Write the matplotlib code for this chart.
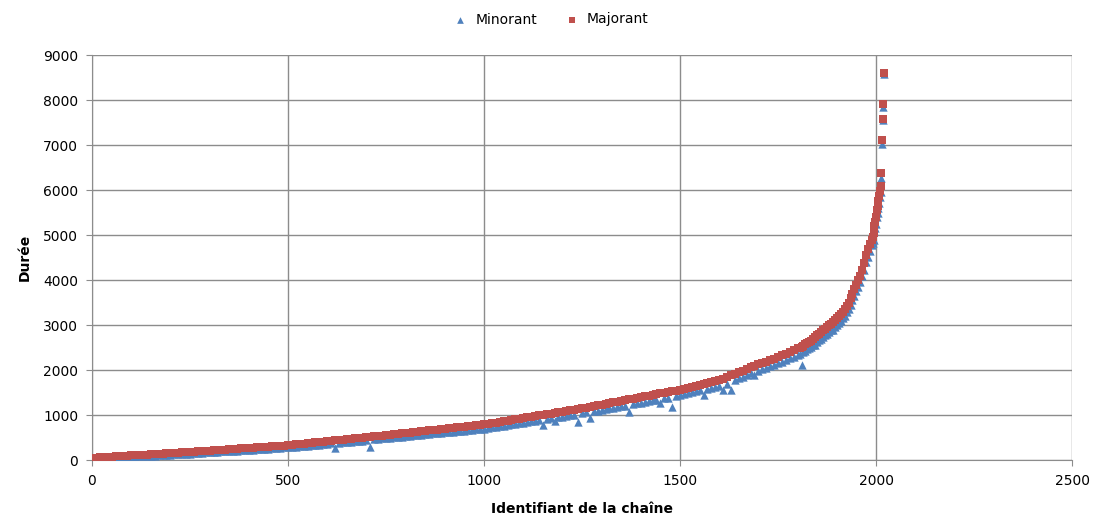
import numpy as np
import matplotlib
matplotlib.use("Agg")
import matplotlib.pyplot as plt

ids = (list(range(0, 1800, 10)) + list(range(1800, 1991, 5))
       + list(range(1992, 2013, 2)) + [2014, 2016, 2017, 2018, 2020])

majorant = [
    20, 55, 62, 68, 72, 78, 84, 88, 93, 98, 102, 107, 112, 117, 121, 126, 131, 137, 142, 147, 152, 158, 163, 168, 174, 180,
    186, 192, 197, 203, 209, 215, 221, 227, 233, 239, 245, 251, 257, 263, 269, 275, 281, 287, 293, 299, 305, 311, 317, 323, 330,
    338, 347, 356, 364, 373, 382, 391, 400, 409, 418, 427, 436, 445, 454, 463, 472, 481, 490, 499, 508, 517, 527, 536, 545, 555,
    564, 574, 583, 592, 602, 611, 621, 630, 640, 649, 658, 668, 677, 687, 696, 705, 715, 724, 734, 743, 752, 762, 771, 781, 790,
    804, 818, 832, 847, 861, 875, 890, 904, 918, 933, 947, 962, 976, 990, 1005, 1019, 1034, 1048, 1063, 1077, 1092, 1106, 1121, 1135, 1150,
    1166, 1182, 1198, 1215, 1231, 1248, 1264, 1281, 1297, 1314, 1330, 1347, 1363, 1380, 1396, 1413, 1429, 1446, 1462, 1479, 1495, 1511, 1527, 1544, 1560,
    1582, 1604, 1626, 1648, 1670, 1692, 1714, 1736, 1758, 1780,
    1812, 1845, 1880, 1915, 1950, 1985, 2025, 2060, 2095, 2130,
    2160, 2190, 2220, 2255, 2290, 2325, 2365, 2400, 2440,
    2480, 2500, 2520, 2545, 2570, 2600, 2620, 2650, 2700, 2740, 2780, 2810, 2840, 2880, 2920, 2960, 3000, 3030, 3060, 3110,
    3160, 3200, 3250, 3290, 3350, 3420, 3500, 3600, 3700, 3800, 3900, 4000, 4100, 4230, 4380, 4560, 4680, 4800, 4900,
    4950, 5050, 5200, 5300, 5400, 5550, 5650, 5750, 5870, 5980, 6090,
    6380, 7120, 7590, 7920, 8600,
]

minorant = [
    10, 30, 35, 40, 45, 50, 55, 60, 62, 68, 72, 78, 80, 86, 90, 95, 100, 105, 110, 115, 120, 125, 130, 135, 140, 145,
    150, 156, 160, 168, 172, 178, 185, 190, 196, 200, 205, 210, 218, 222, 228, 232, 240, 245, 250, 255, 262, 268, 275, 280, 285,
    292, 300, 308, 315, 322, 330, 338, 345, 352, 360, 368, 270, 385, 392, 400, 410, 418, 425, 432, 440, 290, 465, 472, 480, 490,
    498, 505, 515, 522, 530, 540, 548, 556, 565, 572, 580, 590, 598, 605, 615, 622, 630, 640, 648, 655, 665, 672, 680, 690, 700,
    710, 725, 738, 750, 765, 780, 790, 805, 818, 830, 845, 860, 870, 885, 780, 910, 925, 870, 950, 965, 980, 990, 1005, 840, 1040,
    1060, 930, 1085, 1100, 1120, 1135, 1150, 1165, 1180, 1195, 1210, 1070, 1245, 1260, 1275, 1290, 1310, 1325, 1340, 1270, 1370, 1390, 1180, 1420, 1440,
    1470, 1490, 1510, 1530, 1550, 1440, 1590, 1610, 1630, 1650,
    1560, 1700, 1560, 1780, 1820, 1850, 1890, 1930, 1890, 1990,
    2020, 2050, 2080, 2110, 2150, 2180, 2220, 2260, 2290,
    2330, 2350, 2110, 2400, 2430, 2460, 2480, 2510, 2550, 2560, 2620, 2660, 2700, 2730, 2780, 2800, 2850, 2880, 2900, 2950,
    3000, 3050, 3100, 3150, 3200, 3280, 3350, 3450, 3550, 3650, 3750, 3850, 3950, 4080, 4220, 4400, 4520, 4650, 4780,
    4820, 4900, 5100, 5150, 5250, 5400, 5500, 5600, 5720, 5850, 5950,
    6270, 7030, 7560, 7850, 8580,
]

x_ticks = [0, 500, 1000, 1500, 2000, 2500]
y_ticks = [0, 1000, 2000, 3000, 4000, 5000, 6000, 7000, 8000, 9000]

## PLOT
fig = plt.figure(figsize=(10.95, 5.30), dpi=100)
ax = fig.add_axes([0.084, 0.132, 0.895, 0.764])

ax.scatter(ids, minorant, marker="^", s=36, color="#4F81BD", linewidths=0, label="Minorant", zorder=3)
ax.scatter(ids, majorant, marker="s", s=32, color="#C0504D", linewidths=0, label="Majorant", zorder=4)

ax.set_xlim(0, 2500)
ax.set_ylim(0, 9000)
ax.set_xticks(x_ticks)
ax.set_yticks(y_ticks)
ax.grid(True, color="#8C8C8C", linewidth=1.0)
ax.set_axisbelow(True)
for sp in ["top", "right"]:
    ax.spines[sp].set_visible(False)
for sp in ["left", "bottom"]:
    ax.spines[sp].set_color("#8C8C8C")
ax.tick_params(colors="#8C8C8C", labelcolor="black", labelsize=10, length=4, pad=6)

ax.set_xlabel("Identifiant de la chaîne", fontsize=10, fontweight="bold", labelpad=10)
ax.set_ylabel("Durée", fontsize=10, fontweight="bold", labelpad=8)

fig.legend(loc="upper center", bbox_to_anchor=(0.5, 1.0), ncol=2, frameon=False,
           fontsize=10, handletextpad=0.1, columnspacing=1.5, markerscale=0.8)

plt.savefig("out.png", dpi=100)
